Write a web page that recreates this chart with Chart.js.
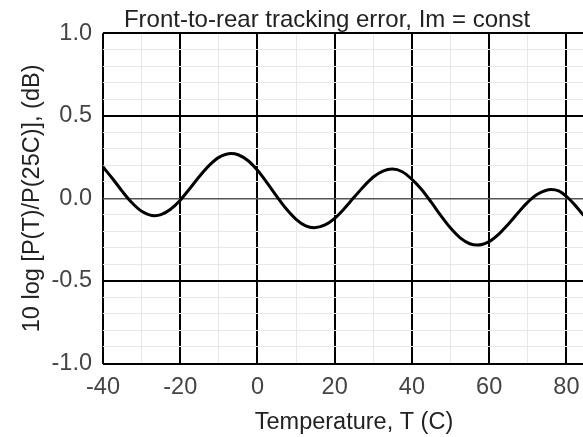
<!DOCTYPE html>
<html>
<head>
<meta charset="utf-8">
<script src="https://cdn.jsdelivr.net/npm/chart.js@4.4.1/dist/chart.umd.min.js"></script>
<style>
html,body{margin:0;padding:0;overflow:hidden;background:#fff;}
#wrap{width:654px;height:437px;}
</style>
</head>
<body>
<div id="wrap"><canvas id="c" width="654" height="437"></canvas></div>
<script>
const chartTitle = 'Front-to-rear tracking error, Im = const';
const xAxisTitle = 'Temperature, T (C)';
const yAxisTitle = '10 log [P(T)/P(25C)], (dB)';

const temperatures = [-40, -37.5, -35, -32.5, -30, -26.6, -25, -22.5, -20, -17.5, -15, -12.5, -10, -6.8, -5, -2.5, 0, 2.5, 5, 7.5, 10, 12.5, 14.7, 17.5, 20, 22.5, 25, 27.5, 30, 32.5, 34.9, 37.5, 40, 42.5, 45, 47.5, 50, 52.5, 55, 56.9, 60, 62.5, 65, 67.5, 70, 72.5, 76.1, 78, 80, 82, 84, 85];
const trackingError = [0.19, 0.119, 0.042, -0.027, -0.078, -0.105, -0.099, -0.066, -0.011, 0.06, 0.134, 0.2, 0.248, 0.272, 0.264, 0.229, 0.17, 0.094, 0.012, -0.065, -0.127, -0.167, -0.178, -0.161, -0.121, -0.062, 0.006, 0.072, 0.129, 0.165, 0.177, 0.161, 0.115, 0.054, -0.023, -0.105, -0.18, -0.239, -0.275, -0.283, -0.262, -0.217, -0.155, -0.087, -0.023, 0.025, 0.054, 0.045, 0.012, -0.035, -0.09, -0.115];

const xTickLabels = ['-40', '-20', '0', '20', '40', '60', '80'];
const yTickLabels = ['-1.0', '-0.5', '0.0', '0.5', '1.0'];

const xMin = -40, xMax = 90, xMinorStep = 10;
const yMin = -1, yMax = 1, yMinorStep = 0.1;

const xGridValues = [];
for (let i = 0; xMin + i * xMinorStep <= xMax + 1e-9; i++) xGridValues.push(xMin + i * xMinorStep);
const yGridValues = [];
for (let i = 0; yMin + i * yMinorStep <= yMax + 1e-9; i++) yGridValues.push(Math.round((yMin + i * yMinorStep) * 10) / 10);

const FONT = "'Liberation Sans', Arial, sans-serif";
const MINOR = '#e8e8e8';

function xLabel(v) { const s = String(Math.round(v)); return xTickLabels.includes(s) ? s : ''; }
function yLabel(v) { const s = (Math.round(v * 10) / 10).toFixed(1); return yTickLabels.includes(s === '-0.0' ? '0.0' : s) ? s : ''; }

new Chart(document.getElementById('c'), {
  type: 'line',
  data: {
    datasets: [{
      data: temperatures.map((t, i) => ({x: t, y: trackingError[i]})),
      borderColor: '#000',
      borderWidth: 3,
      pointRadius: 0,
      fill: false,
      cubicInterpolationMode: 'monotone',
      borderCapStyle: 'round',
      borderJoinStyle: 'round'
    }]
  },
  options: {
    responsive: false,
    animation: false,
    devicePixelRatio: 1,
    layout: {padding: 0},
    plugins: {
      legend: {display: false},
      tooltip: {enabled: false},
      title: {
        display: true,
        text: chartTitle,
        color: '#222',
        font: {family: FONT, size: 24, weight: 'normal', lineHeight: 1.1},
        padding: {top: 6.8, bottom: 0}
      }
    },
    scales: {
      x: {
        type: 'linear',
        position: 'bottom',
        min: xMin,
        max: xMax,
        afterBuildTicks: s => { s.ticks = xGridValues.map(v => ({value: v})); },
        afterFit: s => { s.height = 73.5; },
        ticks: {
          autoSkip: false, maxRotation: 0, padding: 10,
          color: '#444',
          font: {family: FONT, size: 23.5},
          callback: v => xLabel(v)
        },
        grid: {
          z: -2,
          drawTicks: false,
          color: c => (Math.round(c.tick.value) % 20 === 0 ? '#000' : MINOR),
          lineWidth: c => (Math.round(c.tick.value) % 20 === 0 ? 2 : 1)
        },
        border: {display: false},
        title: {
          display: true, text: xAxisTitle, color: '#222',
          font: {family: FONT, size: 23.5},
          padding: {top: 6, bottom: 0}
        }
      },
      y: {
        type: 'linear',
        position: 'left',
        min: yMin,
        max: yMax,
        afterBuildTicks: s => { s.ticks = yGridValues.map(v => ({value: v})); },
        afterFit: s => { s.width = 103; },
        ticks: {
          autoSkip: false, padding: 11,
          color: '#444',
          font: {family: FONT, size: 23.5},
          callback: v => yLabel(v)
        },
        grid: {
          z: -1,
          drawTicks: false,
          color: c => { const k = Math.round(c.tick.value * 10); return k % 5 === 0 ? (k === 0 ? '#555' : '#000') : MINOR; },
          lineWidth: c => { const k = Math.round(c.tick.value * 10); return k % 5 === 0 ? (k === 0 ? 1.5 : 2) : 1; }
        },
        border: {display: false},
        title: {
          display: true, text: yAxisTitle, color: '#222',
          font: {family: FONT, size: 23.5},
          padding: {top: 18, bottom: 0}
        }
      },
      yRight: {
        type: 'linear',
        position: 'right',
        min: yMin,
        max: yMax,
        display: true,
        afterFit: s => { s.width = 49; },
        ticks: {display: false},
        grid: {display: false, drawTicks: false},
        border: {display: false}
      }
    }
  }
});
</script>
</body>
</html>
